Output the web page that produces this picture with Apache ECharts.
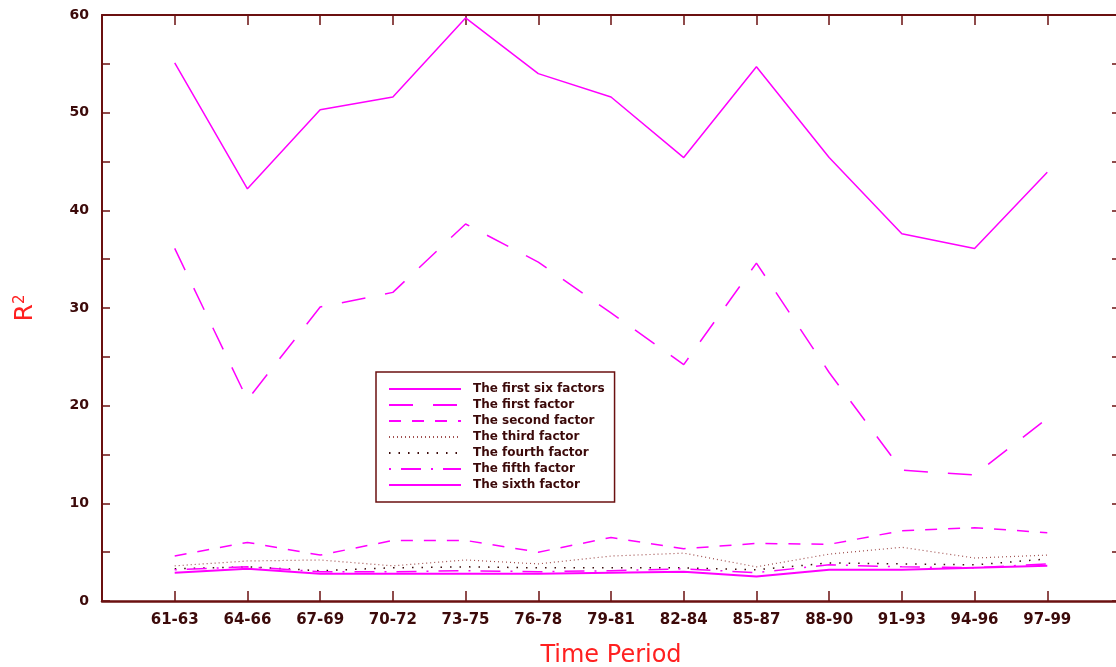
<!DOCTYPE html>
<html>
<head>
<meta charset="utf-8">
<script src="https://cdn.jsdelivr.net/npm/echarts@6/dist/echarts.min.js"></script>
<style>html,body{margin:0;padding:0;background:#fff;}#c{width:1116px;height:667px;}</style>
</head>
<body>
<div id="c"></div>
<script>
var categories = ['61-63','64-66','67-69','70-72','73-75','76-78','79-81','82-84','85-87','88-90','91-93','94-96','97-99'];
var yTicks = [0,10,20,30,40,50,60];
var firstSix  = [55.1, 42.2, 50.3, 51.6, 59.7, 54.0, 51.6, 45.4, 54.7, 45.4, 37.6, 36.1, 43.9];
var firstF    = [36.1, 20.6, 30.1, 31.6, 38.6, 34.7, 29.5, 24.2, 34.6, 23.4, 13.4, 12.9, 18.7];
var secondF   = [4.6, 6.0, 4.7, 6.2, 6.2, 5.0, 6.5, 5.35, 5.9, 5.8, 7.2, 7.5, 7.0];
var thirdF    = [3.6, 4.1, 4.2, 3.6, 4.2, 3.8, 4.6, 4.9, 3.5, 4.8, 5.5, 4.4, 4.7];
var fourthF   = [3.3, 3.5, 3.1, 3.4, 3.5, 3.4, 3.4, 3.4, 3.2, 3.9, 3.8, 3.7, 4.3];
var fifthF    = [3.2, 3.5, 3.0, 3.0, 3.1, 3.0, 3.1, 3.3, 2.9, 3.7, 3.5, 3.4, 3.8];
var sixthF    = [2.9, 3.3, 2.8, 2.8, 2.8, 2.8, 2.9, 3.0, 2.5, 3.2, 3.2, 3.4, 3.6];
var names = ['The first six factors','The first factor','The second factor','The third factor','The fourth factor','The fifth factor','The sixth factor'];

var axisColor = '#6b1010';
var labelColor = '#3c0a0a';
var mag = '#ff00ff';

function pts(arr){ return arr.map(function(v,i){ return [i, v]; }); }

var defs = [
  {d: firstSix, color: mag, type: 'solid', w: 1.5},
  {d: firstF, color: mag, type: [24, 20], w: 1.5},
  {d: secondF, color: mag, type: [12, 11], w: 1.5},
  {d: thirdF, color: '#a05050', type: [1, 3], w: 1.2},
  {d: fourthF, color: '#3a0a0a', type: [1.5, 8], w: 1.5},
  {d: fifthF, color: mag, type: [2, 10, 20, 10], w: 1.5},
  {d: sixthF, color: mag, type: 'solid', w: 2}
];

var series = defs.map(function(s, k){
  return {
    name: names[k], type: 'line', data: pts(s.d), symbol: 'none', showSymbol: false,
    xAxisIndex: 0, yAxisIndex: 0,
    lineStyle: {color: s.color, width: s.w, type: s.type},
    itemStyle: {color: s.color},
    animation: false
  };
});

var chart = echarts.init(document.getElementById('c'));
chart.setOption({
  backgroundColor: '#ffffff',
  animation: false,
  grid: {left: 102, top: 15, width: 1018, height: 586, containLabel: false, outerBoundsMode: 'none'},
  legend: {
    data: names, orient: 'vertical', left: 376, top: 372,
    itemWidth: 72, itemHeight: 10, itemGap: 4,
    padding: [11, 10, 11, 12],
    borderColor: axisColor, borderWidth: 1.5, backgroundColor: '#ffffff',
    itemStyle: {opacity: 0},
    textStyle: {color: labelColor, fontSize: 12, lineHeight: 12, fontWeight: 'bold', fontFamily: 'DejaVu Sans', padding: [0, 0, 0, 7]},
    selectedMode: false
  },
  xAxis: [{
    type: 'value', min: -1, max: 13, interval: 1, position: 'bottom',
    name: 'Time Period', nameLocation: 'middle', nameGap: 43,
    nameTextStyle: {color: '#ff2020', fontSize: 24, fontFamily: 'DejaVu Sans'},
    axisLine: {show: true, onZero: false, lineStyle: {color: axisColor, width: 2.5}},
    axisTick: {show: true, inside: true, length: 10, lineStyle: {color: axisColor, width: 1.5}},
    axisLabel: {color: labelColor, fontSize: 15, fontWeight: 'bold', fontFamily: 'DejaVu Sans', margin: 12,
      formatter: function(v){ return (v >= 0 && v < categories.length) ? categories[v] : ''; }},
    splitLine: {show: false}
  }, {
    type: 'value', min: -1, max: 13, interval: 1, position: 'top',
    axisLine: {show: true, onZero: false, lineStyle: {color: axisColor, width: 2}},
    axisTick: {show: true, inside: true, length: 10, lineStyle: {color: axisColor, width: 1.5}},
    axisLabel: {show: false}, splitLine: {show: false}
  }],
  yAxis: [{
    type: 'value', min: 0, max: 60, interval: 5, position: 'left',
    name: 'R{s|2}', nameLocation: 'middle', nameGap: 64, nameRotate: 90,
    nameTextStyle: {color: '#ff2020', fontSize: 25, fontFamily: 'DejaVu Sans',
      rich: {s: {color: '#ff2020', fontSize: 15, verticalAlign: 'top', padding: [0,0,7,0]}}},
    axisLine: {show: true, onZero: false, lineStyle: {color: axisColor, width: 2}},
    axisTick: {show: true, inside: true, length: 8, lineStyle: {color: axisColor, width: 1.5}},
    axisLabel: {color: labelColor, fontSize: 14, fontWeight: 'bold', fontFamily: 'DejaVu Sans', margin: 13,
      formatter: function(v){ return yTicks.indexOf(v) >= 0 ? String(v) : ''; }},
    splitLine: {show: false}
  }, {
    type: 'value', min: 0, max: 60, interval: 5, position: 'right',
    axisLine: {show: true, onZero: false, lineStyle: {color: axisColor, width: 2}},
    axisTick: {show: true, inside: true, length: 8, lineStyle: {color: axisColor, width: 1.5}},
    axisLabel: {show: false}, splitLine: {show: false}
  }],
  series: series
});
</script>
</body>
</html>
